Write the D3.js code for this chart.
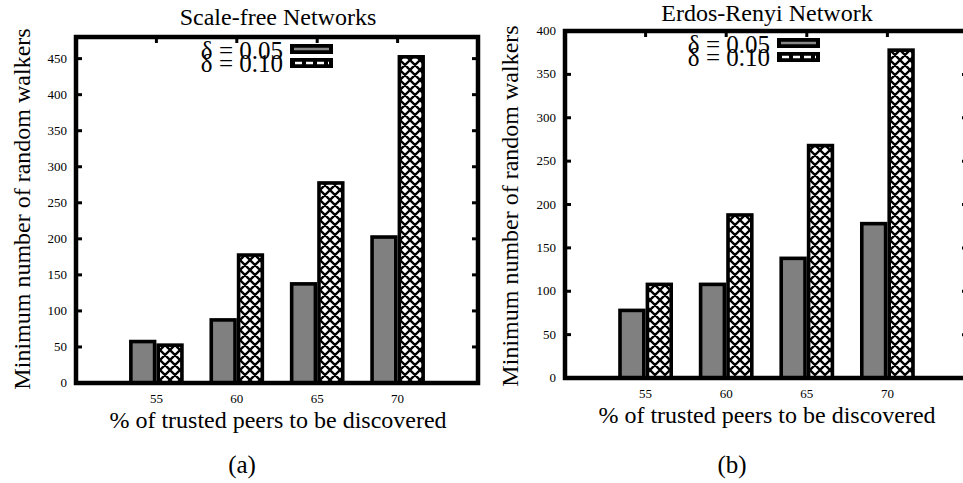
<!DOCTYPE html>
<meta charset="utf-8">

<!-- Load d3.js -->
<script src="https://d3js.org/d3.v7.min.js"></script>

<style>
  body {
    margin: 0;
    background: #fff;
  }
  text {
    font-family: 'Liberation Serif', 'Times New Roman', Times, 'DejaVu Serif', serif;
  }
</style>

<body>
<div id="my_dataviz"></div>

<script>

// data
var categories = ["55", "60", "65", "70"];
var seriesNames = ["δ = 0.05", "δ = 0.10"];

var scaleFreeD005 = [60, 90, 140, 205];
var scaleFreeD010 = [55, 180, 280, 455];

var erdosD005 = [80, 110, 140, 180];
var erdosD010 = [110, 190, 270, 380];

var scaleFreeTicks = [0, 50, 100, 150, 200, 250, 300, 350, 400, 450];
var erdosTicks = [0, 50, 100, 150, 200, 250, 300, 350, 400];

var svg = d3.select("#my_dataviz")
  .append("svg")
    .attr("width", 963)
    .attr("height", 483);

// crosshatch pattern for the delta = 0.10 bars
var defs = svg.append("defs");
var pat = defs.append("pattern")
    .attr("id", "xhatch")
    .attr("patternUnits", "userSpaceOnUse")
    .attr("width", 10)
    .attr("height", 10);
pat.append("rect")
    .attr("width", 10)
    .attr("height", 10)
    .attr("fill", "#fff");
pat.append("path")
    .attr("d", "M0,0L10,10M10,0L0,10M-1,9L1,11M9,-1L11,1M-1,1L1,-1M9,11L11,9")
    .attr("stroke", "#000")
    .attr("stroke-width", 2.3);

function drawPanel(opt) {
  var x = d3.scaleLinear()
      .domain([-1, categories.length])
      .range([opt.left, opt.right]);
  var y = d3.scaleLinear()
      .domain([0, opt.yMax])
      .range([opt.bottom, opt.top]);

  var g = svg.append("g");
  var bw = 0.34;   // bar width in category units

  // y tick labels
  g.selectAll(".ylab")
    .data(opt.ticks)
    .enter()
    .append("text")
      .attr("x", opt.left - 9)
      .attr("y", function(d) { return y(d) + 4; })
      .attr("text-anchor", "end")
      .style("font-size", "13px")
      .text(function(d) { return d; });

  // x tick labels
  g.selectAll(".xlab")
    .data(categories)
    .enter()
    .append("text")
      .attr("x", function(d, i) { return x(i); })
      .attr("y", opt.bottom + 20)
      .attr("text-anchor", "middle")
      .style("font-size", "13px")
      .text(function(d) { return d; });

  // gray bars
  g.selectAll(".bar1")
    .data(opt.s1)
    .enter()
    .append("rect")
      .attr("x", function(d, i) { return x(i - bw) + 1.8; })
      .attr("y", function(d) { return y(d) + 1.8; })
      .attr("width", function(d, i) { return x(i) - x(i - bw) - 3.6; })
      .attr("height", function(d) { return y(0) - y(d) - 1.8; })
      .attr("fill", "#808080")
      .attr("stroke", "#000")
      .attr("stroke-width", 3.6);

  // hatched bars
  g.selectAll(".bar2")
    .data(opt.s2)
    .enter()
    .append("rect")
      .attr("x", function(d, i) { return x(i) + 1.8; })
      .attr("y", function(d) { return y(d) + 1.8; })
      .attr("width", function(d, i) { return x(i + bw) - x(i) - 3.6; })
      .attr("height", function(d) { return y(0) - y(d) - 1.8; })
      .attr("fill", "url(#xhatch)")
      .attr("stroke", "#000")
      .attr("stroke-width", 3.6);

  // inward tick marks, left and right
  opt.ticks.forEach(function(t) {
    g.append("line")
      .attr("x1", opt.left).attr("x2", opt.left + 6)
      .attr("y1", y(t)).attr("y2", y(t))
      .attr("stroke", "#000").attr("stroke-width", 3);
    g.append("line")
      .attr("x1", opt.right).attr("x2", opt.right - 6)
      .attr("y1", y(t)).attr("y2", y(t))
      .attr("stroke", "#000").attr("stroke-width", 3);
  });
  // top mirror ticks
  categories.forEach(function(c, i) {
    g.append("line")
      .attr("x1", x(i)).attr("x2", x(i))
      .attr("y1", opt.top).attr("y2", opt.top + 6)
      .attr("stroke", "#000").attr("stroke-width", 3);
  });

  // frame
  g.append("rect")
    .attr("x", opt.left)
    .attr("y", opt.top)
    .attr("width", opt.right - opt.left)
    .attr("height", opt.bottom - opt.top)
    .attr("fill", "none")
    .attr("stroke", "#000")
    .attr("stroke-width", 4.5);

  // legend (the two lines overlap, as in the original)
  var lg = g.append("g");
  lg.append("text")
    .attr("x", opt.legX)
    .attr("y", opt.legY)
    .attr("text-anchor", "end")
    .style("font-size", "25px")
    .text(seriesNames[0]);
  lg.append("text")
    .attr("x", opt.legX)
    .attr("y", opt.legY + 13)
    .attr("text-anchor", "end")
    .style("font-size", "25px")
    .text(seriesNames[1]);
  lg.append("rect")
    .attr("x", opt.legX + 7).attr("y", opt.legY - 15)
    .attr("width", 43).attr("height", 10)
    .attr("fill", "#000");
  lg.append("line")
    .attr("x1", opt.legX + 11).attr("x2", opt.legX + 46)
    .attr("y1", opt.legY - 10).attr("y2", opt.legY - 10)
    .attr("stroke", "#888").attr("stroke-width", 2.5);
  lg.append("rect")
    .attr("x", opt.legX + 7).attr("y", opt.legY - 1)
    .attr("width", 43).attr("height", 10)
    .attr("fill", "#000");
  lg.append("line")
    .attr("x1", opt.legX + 12).attr("x2", opt.legX + 46)
    .attr("y1", opt.legY + 4).attr("y2", opt.legY + 4)
    .attr("stroke", "#fff").attr("stroke-width", 2.5)
    .attr("stroke-dasharray", "7,4");

  // title
  g.append("text")
    .attr("x", opt.titleX)
    .attr("y", opt.titleY)
    .attr("text-anchor", "middle")
    .style("font-size", "24px")
    .text(opt.title);

  // axis titles
  g.append("text")
    .attr("transform", "translate(" + opt.yLabX + "," + opt.yLabY + ")rotate(-90)")
    .attr("text-anchor", "middle")
    .style("font-size", "24px")
    .text("Minimum number of random walkers");
  g.append("text")
    .attr("x", opt.xLabX)
    .attr("y", opt.xLabY)
    .attr("text-anchor", "middle")
    .style("font-size", "24px")
    .text("% of trusted peers to be discovered");

  // sub caption
  g.append("text")
    .attr("x", opt.capX)
    .attr("y", 473)
    .attr("text-anchor", "middle")
    .style("font-size", "25px")
    .text(opt.caption);
}

drawPanel({
  s1: scaleFreeD005, s2: scaleFreeD010, ticks: scaleFreeTicks, yMax: 480,
  left: 76, right: 478, top: 37, bottom: 383,
  legX: 283, legY: 59,
  title: "Scale-free Networks", titleX: 278, titleY: 25,
  yLabX: 30, yLabY: 209, xLabX: 278, xLabY: 428,
  caption: "(a)", capX: 242
});

drawPanel({
  s1: erdosD005, s2: erdosD010, ticks: erdosTicks, yMax: 400,
  left: 565, right: 968, top: 31, bottom: 378,
  legX: 770, legY: 53,
  title: "Erdos-Renyi Network", titleX: 767, titleY: 21,
  yLabX: 518, yLabY: 206, xLabX: 767, xLabY: 423,
  caption: "(b)", capX: 732
});

</script>
</body>
